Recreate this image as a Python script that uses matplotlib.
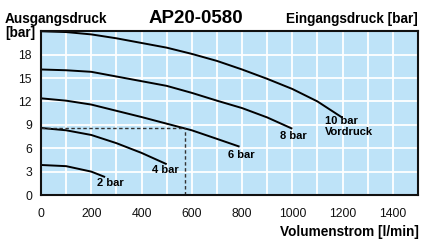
import matplotlib
matplotlib.use("Agg")
import matplotlib.pyplot as plt
from matplotlib.ticker import MultipleLocator

plt.rcParams['font.family'] = ['Liberation Sans', 'DejaVu Sans']

# flow [l/min] and outlet pressure [bar], one list per inlet pressure
flow_10 = [0, 100, 200, 300, 400, 500, 600, 700, 800, 900, 1000, 1100, 1200]
p_10 = [21.0, 20.9, 20.6, 20.1, 19.5, 18.9, 18.1, 17.2, 16.1, 14.9, 13.6, 12.0, 9.9]

flow_8 = [0, 100, 200, 300, 400, 500, 600, 700, 800, 900, 1000]
p_8 = [16.1, 16.0, 15.8, 15.2, 14.6, 14.0, 13.1, 12.1, 11.15, 9.95, 8.5]

flow_6 = [0, 100, 200, 300, 400, 500, 600, 700, 790]
p_6 = [12.4, 12.1, 11.6, 10.8, 10.0, 9.15, 8.3, 7.2, 6.2]

flow_4 = [0, 100, 200, 300, 400, 500]
p_4 = [8.6, 8.3, 7.7, 6.65, 5.4, 3.95]

flow_2 = [0, 100, 200, 255]
p_2 = [3.85, 3.7, 3.0, 2.3]

curves = [(flow_10, p_10), (flow_8, p_8), (flow_6, p_6), (flow_4, p_4), (flow_2, p_2)]

# curve labels: text, x, y
labels = [("2 bar", 275, 1.6), ("4 bar", 494, 3.2), ("6 bar", 798, 5.1),
          ("8 bar", 1003, 7.6)]
label_10 = ("10 bar\nVordruck", 1130, 6.9)

# operating point marked by the dashed lines
op_flow = 573
op_press = 8.6

x_ticks = [0, 200, 400, 600, 800, 1000, 1200, 1400]
y_ticks = [0, 3, 6, 9, 12, 15, 18]

fig = plt.figure(figsize=(4.22, 2.40), dpi=100)
ax = fig.add_axes([41/422, 1 - 195/240, 377/422, (195 - 30.5)/240])
ax.set_facecolor('#bee3f8')

ax.set_xlim(0, 1500)
ax.set_ylim(0, 21.1)
ax.set_xticks(x_ticks)
ax.xaxis.set_minor_locator(MultipleLocator(100))
ax.set_yticks(y_ticks)
ax.grid(True, which='both', color='white', linewidth=1.3)
ax.set_axisbelow(True)
ax.tick_params(which='both', length=0)
ax.tick_params(axis='x', pad=9.5, labelsize=8.8, labelcolor='#111111')
ax.tick_params(axis='y', pad=6.5, labelsize=8.7, labelcolor='#111111')
for s in ax.spines.values():
    s.set_color('#111111')
    s.set_linewidth(1.5)

for fx, py in curves:
    ax.plot(fx, py, color='black', linewidth=1.4, solid_capstyle='butt',
            solid_joinstyle='round')

ax.plot([0, op_flow], [op_press, op_press], color='#333333', linewidth=1.0,
        linestyle=(0, (2.5, 1.8)))
ax.plot([op_flow, op_flow], [0, op_press], color='#333333', linewidth=1.0,
        linestyle=(0, (2.5, 1.8)))

for t, lx, ly in labels:
    ax.text(lx, ly, t, ha='center', va='center', fontsize=8, fontweight='bold')
ax.text(label_10[1], label_10[2] + 1.9, label_10[0], ha='left', va='center',
        fontsize=8, fontweight='bold', linespacing=1.2)

fig.text(195.5/422, 1 - 22.7/240, "AP20-0580", ha='center', va='baseline',
         fontsize=13.5, fontweight='bold')
fig.text(5/422, 1 - 22.7/240, "Ausgangsdruck", ha='left', va='baseline',
         fontsize=9.8, fontweight='bold')
fig.text(5/422, 1 - 37/240, "[bar]", ha='left', va='baseline',
         fontsize=9.8, fontweight='bold')
fig.text(417.5/422, 1 - 22.7/240, "Eingangsdruck [bar]", ha='right', va='baseline',
         fontsize=9.8, fontweight='bold')
fig.text(419/422, 1 - 236/240, "Volumenstrom [l/min]", ha='right', va='baseline',
         fontsize=9.8, fontweight='bold')

fig.savefig("out.png", dpi=100)
